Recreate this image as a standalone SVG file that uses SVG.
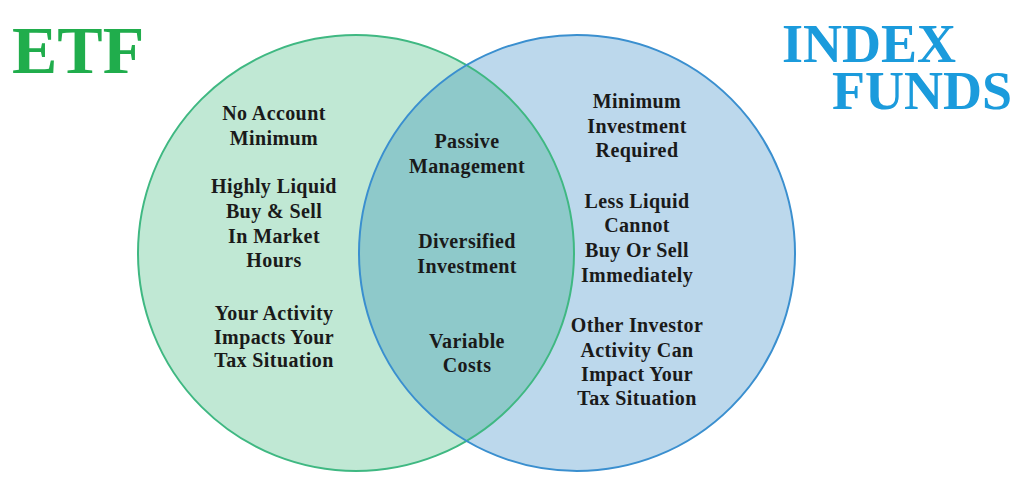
<svg xmlns="http://www.w3.org/2000/svg" width="1024" height="491" viewBox="0 0 1024 491">
<style>
.t{font-family:"Liberation Serif","Times New Roman",serif;font-weight:bold;font-size:20px;letter-spacing:0.4px;fill:#1a1a1a;text-anchor:middle}
.title{font-family:"Liberation Serif","Times New Roman",serif;font-weight:bold}
</style>
<rect width="1024" height="491" fill="#ffffff"/>
<g id="etf-circle">
<circle cx="356" cy="253" r="218" fill="#c0e8d4"/>
</g>
<g id="index-circle">
<circle cx="577" cy="253" r="218" fill="#bcd8ec"/>
</g>
<g id="overlap">
<path d="M466.5,65 A218,218 0 0 1 466.5,441 A218,218 0 0 1 466.5,65 Z" fill="#8ec9ca"/>
</g>
<g id="outlines" fill="none" stroke-width="2">
<circle cx="356" cy="253" r="218" stroke="#3fb882"/>
<circle cx="577" cy="253" r="218" stroke="#3a8fcf"/>
</g>
<g id="title-etf">
<text class="title" x="12" y="73" font-size="68" fill="#20ad4c">ETF</text>
</g>
<g id="title-index">
<text class="title" font-size="54" fill="#1b9bdc"><tspan x="782" y="62">INDEX</tspan><tspan x="832" y="109">FUNDS</tspan></text>
</g>
<g id="etf-text">
<text class="t" x="274" y="120">No Account</text>
<text class="t" x="274" y="145">Minimum</text>
<text class="t" x="274" y="193">Highly Liquid</text>
<text class="t" x="274" y="218">Buy &amp; Sell</text>
<text class="t" x="274" y="243">In Market</text>
<text class="t" x="274" y="267">Hours</text>
<text class="t" x="274" y="320">Your Activity</text>
<text class="t" x="274" y="344">Impacts Your</text>
<text class="t" x="274" y="367">Tax Situation</text>
</g>
<g id="common-text">
<text class="t" x="467" y="148">Passive</text>
<text class="t" x="467" y="173">Management</text>
<text class="t" x="467" y="248">Diversified</text>
<text class="t" x="467" y="273">Investment</text>
<text class="t" x="467" y="348">Variable</text>
<text class="t" x="467" y="372">Costs</text>
</g>
<g id="index-text">
<text class="t" x="637" y="108">Minimum</text>
<text class="t" x="637" y="133">Investment</text>
<text class="t" x="637" y="157">Required</text>
<text class="t" x="637" y="208">Less Liquid</text>
<text class="t" x="637" y="232">Cannot</text>
<text class="t" x="637" y="257">Buy Or Sell</text>
<text class="t" x="637" y="282">Immediately</text>
<text class="t" x="637" y="332">Other Investor</text>
<text class="t" x="637" y="357">Activity Can</text>
<text class="t" x="637" y="381">Impact Your</text>
<text class="t" x="637" y="405">Tax Situation</text>
</g>
</svg>
